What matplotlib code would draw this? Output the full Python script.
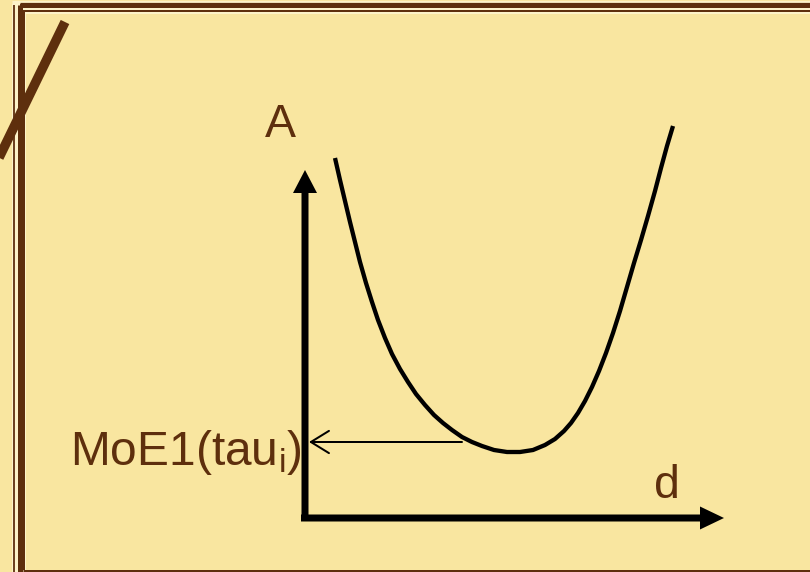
# U-shaped curve of A over d, with the MoE1(tau_i) read-off arrow
import matplotlib
matplotlib.use("Agg")
import matplotlib.pyplot as plt

plt.rcParams['font.family'] = ['Liberation Sans', 'DejaVu Sans']
plt.rcParams['mathtext.default'] = 'regular'

bg = '#F9E6A0'
brown = '#5E2F0D'
pale = '#FDF3C9'

# curve points (pixel coords, y downwards)
curve_x = [335, 340, 345, 350, 355, 360, 366, 372, 378, 385, 392, 400,
           408, 416, 425, 434, 443, 452, 462, 472, 482, 494, 507, 520,
           533, 545, 555, 564, 571, 578, 585, 592, 599, 606, 613, 620,
           627, 634, 641, 648, 655, 661, 667, 673]
curve_y = [158, 180, 201, 222, 242, 262, 283, 302, 320, 338, 354, 369,
           382, 394, 405, 415, 423, 430, 437, 442, 446, 450, 452, 452,
           450, 445, 439, 431, 423, 413, 401, 387, 371, 353, 333, 311,
           287, 263, 240, 216, 191, 168, 146, 126]

origin = (305, 518)
y_tip = 170
x_tip = 724
moe_y = 442
moe_x_start = 462

lab_y = "A"
lab_x = "d"
lab_moe = r"MoE1(tau$_\mathregular{i}$)"

px = 0.72  # points per pixel at dpi 100

fig = plt.figure(figsize=(8.1, 5.72), dpi=100)
fig.patch.set_facecolor(bg)
ax = fig.add_axes([0, 0, 1, 1])
ax.set_facecolor(bg)
ax.set_xlim(0, 810)
ax.set_ylim(572, 0)
ax.axis('off')

# slide frame (double lines at left, top and bottom)
ax.plot([12, 810], [6.5, 6.5], color=pale, lw=13 * px, solid_capstyle='butt')
ax.plot([19, 19], [4, 572], color=pale, lw=14 * px, solid_capstyle='butt')
ax.plot([20, 810], [2.5, 2.5], color=brown, lw=1.2 * px, solid_capstyle='butt')
ax.plot([20, 810], [6, 6], color=brown, lw=4 * px, solid_capstyle='butt')
ax.plot([23, 810], [11, 11], color=brown, lw=2 * px, solid_capstyle='butt')
ax.plot([13.7, 13.7], [5, 572], color=brown, lw=1.8 * px, solid_capstyle='butt')
ax.plot([19.5, 19.5], [5, 572], color=brown, lw=5 * px, solid_capstyle='butt')
ax.plot([24, 24], [10, 570], color=brown, lw=2 * px, solid_capstyle='butt')
ax.plot([23, 810], [570.5, 570.5], color=brown, lw=3 * px, solid_capstyle='butt')
# diagonal stroke at the top left
ax.plot([65, -6], [22, 168], color=brown, lw=9.5 * px, solid_capstyle='butt')

# axes with filled arrow heads
ax.arrow(origin[0], origin[1] + 3, 0, y_tip - origin[1] - 3, width=7,
         head_width=24, head_length=23, length_includes_head=True,
         color='black', lw=0)
ax.arrow(origin[0] - 4, origin[1], x_tip - origin[0] + 4, 0, width=7,
         head_width=23, head_length=24, length_includes_head=True,
         color='black', lw=0)

# the curve
ax.plot(curve_x, curve_y, color='black', lw=4.3 * px,
        solid_joinstyle='round', solid_capstyle='butt')

# read-off arrow to the A axis
ax.annotate("", xy=(origin[0] + 4, moe_y), xytext=(moe_x_start, moe_y),
            arrowprops=dict(arrowstyle='->,head_length=1.3,head_width=0.8',
                            lw=2 * px, color='black', mutation_scale=10,
                            shrinkA=0, shrinkB=0))

ax.text(280, 137, lab_y, color=brown, fontsize=33.5, ha='center', va='baseline')
ax.text(667, 498, lab_x, color=brown, fontsize=33.5, ha='center', va='baseline')
ax.text(70, 465, lab_moe, color=brown, fontsize=34.5, ha='left', va='baseline')

fig.savefig("out.png", dpi=100, facecolor=bg)
